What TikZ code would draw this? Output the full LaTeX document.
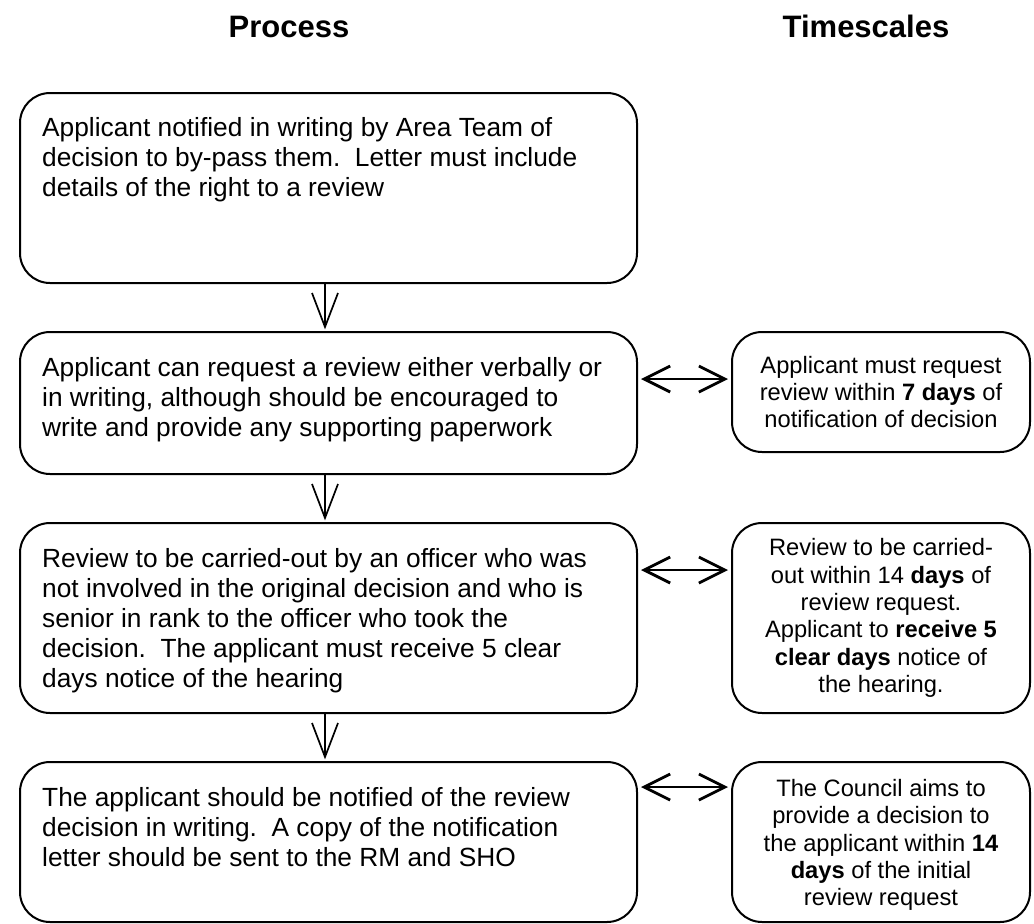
\documentclass[tikz,border=0pt]{standalone}
\usepackage{fontspec}
\setmainfont{Liberation Sans}
\usetikzlibrary{arrows.meta}
\tikzset{
  box/.style={draw, line width=2pt, rounded corners=30pt, inner sep=0pt},
  lbox/.style={box, minimum width=617pt},
  rbox/.style={box, minimum width=298pt},
  ltext/.style={inner sep=0pt, anchor=base west},
  rtext/.style={inner sep=0pt, align=center, font=\fontsize{23.7}{27.3}\selectfont},
  head/.style={inner sep=0pt, anchor=base, font=\fontsize{31}{36}\selectfont\bfseries},
  vline/.style={line width=1.7pt, line join=miter},
  darrow/.style={line width=2.8pt, {Straight Barb[length=26pt, width=26pt]}-{Straight Barb[length=26pt, width=26pt]}, shorten >=3pt, shorten <=3pt}
}
\newcommand{\ltxt}[1]{\parbox[t]{600pt}{\fontsize{26.3}{30.2}\selectfont #1}}
\begin{document}
\begin{tikzpicture}[x=1pt,y=-1pt]
\useasboundingbox (0,0) rectangle (1034,924);
% headings
\node[head] (hp) at (289,37) {Process};
\node[head] (ht) at (866,37) {Timescales};
% left boxes
\node[lbox, minimum height=190pt] (b1) at (328.5,188) {};
\node[lbox, minimum height=142pt] (b2) at (328.5,403) {};
\node[lbox, minimum height=190pt] (b3) at (328.5,618) {};
\node[lbox, minimum height=160pt] (b4) at (328.5,842) {};
% right boxes
\node[rbox, minimum height=120pt] (r1) at (881,392) {};
\node[rbox, minimum height=190pt] (r2) at (881,618) {};
\node[rbox, minimum height=160pt] (r3) at (881,842) {};
% left texts
\node[ltext] (t1) at (42,136) {\ltxt{Applicant notified in writing by Area Team of\\
decision to by-pass them.\ \ Letter must include\\
details of the right to a review}};
\node[ltext] (t2) at (42,376) {\ltxt{Applicant can request a review either verbally or\\
in writing, although should be encouraged to\\
write and provide any supporting paperwork}};
\node[ltext] (t3) at (42,567) {\ltxt{Review to be carried-out by an officer who was\\
not involved in the original decision and who is\\
senior in rank to the officer who took the\\
decision.\ \ The applicant must receive 5 clear\\
days notice of the hearing}};
\node[ltext] (t4) at (42,806) {\ltxt{The applicant should be notified of the review\\
decision in writing.\ \ A copy of the notification\\
letter should be sent to the RM and SHO}};
% right texts
\node[rtext] (s1) at (r1.center) {Applicant must request\\
review within \textbf{7 days} of\\
notification of decision};
\node[rtext] (s2) at (r2.center) {Review to be carried-\\
out within 14 \textbf{days} of\\
review request.\\
Applicant to \textbf{receive 5}\\
\textbf{clear days} notice of\\
the hearing.};
\node[rtext] (s3) at ([yshift=-3pt]r3.center) {The Council aims to\\
provide a decision to\\
the applicant within \textbf{14}\\
\textbf{days} of the initial\\
review request};
% vertical arrows (open V heads)
\coordinate (v1) at ([xshift=-3.5pt, yshift=4pt]b2.north);
\coordinate (v2) at ([xshift=-3.5pt, yshift=4pt]b3.north);
\coordinate (v3) at ([xshift=-3.5pt, yshift=4pt]b4.north);
\draw[vline] ([xshift=-3.5pt]b1.south) -- (v1);
\draw[vline] (v1) ++(-13,-34) -- (v1) -- ++(13,-34);
\draw[vline] ([xshift=-3.5pt]b2.south) -- (v2);
\draw[vline] (v2) ++(-13,-34) -- (v2) -- ++(13,-34);
\draw[vline] ([xshift=-3.5pt]b3.south) -- (v3);
\draw[vline] (v3) ++(-13,-34) -- (v3) -- ++(13,-34);
% double arrows
\draw[darrow] ([yshift=24pt]b2.east) -- ([yshift=13pt]r1.west);
\draw[darrow] ([yshift=48pt]b3.east) -- ([yshift=48pt]r2.west);
\draw[darrow] ([yshift=55pt]b4.east) -- ([yshift=55pt]r3.west);
\end{tikzpicture}
\end{document}
